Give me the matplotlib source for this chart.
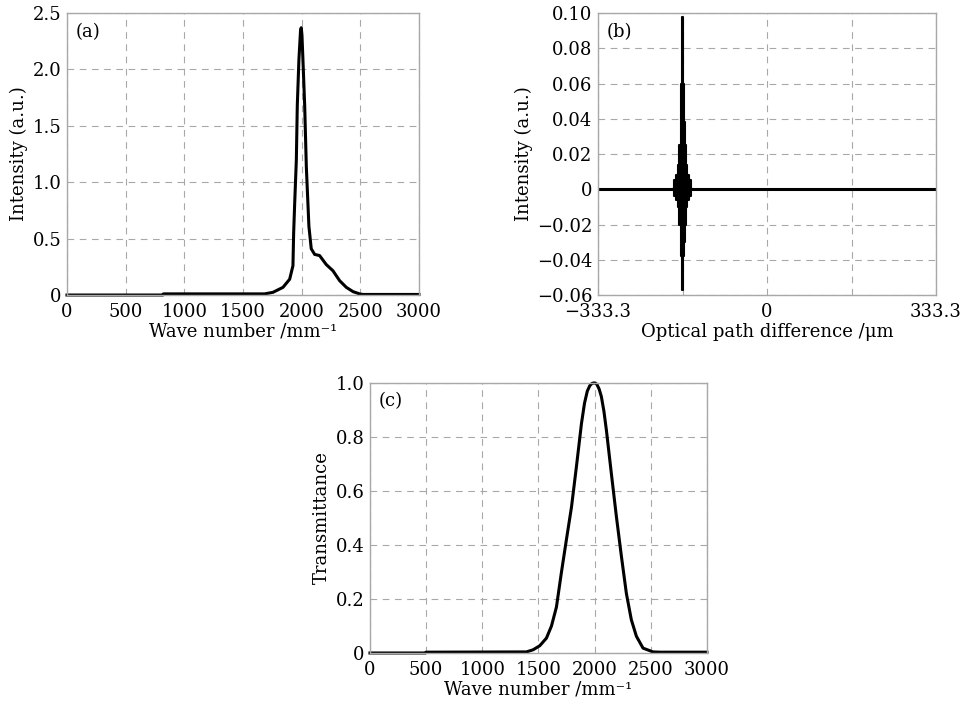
import numpy as np
import matplotlib
matplotlib.use('Agg')
import matplotlib.pyplot as plt

plt.rcParams['font.family'] = ['DejaVu Serif']
plt.rcParams['font.size'] = 13

# --- dados ---
# (a) espectro de entrada
wn_a = [0, 818, 822, 1685, 1756, 1841, 1898, 1926, 1932, 1940, 1955, 1963, 1977, 1991,
        1997, 2003, 2011, 2026, 2040, 2062, 2082, 2111, 2153, 2210, 2267, 2324, 2381,
        2438, 2494, 2520, 3000]
int_a = [0.0, 0.0, 0.01, 0.01, 0.024, 0.068, 0.14, 0.26, 0.55, 0.79, 1.2, 1.68, 2.09, 2.35,
         2.37, 2.30, 2.09, 1.68, 1.14, 0.61, 0.41, 0.36, 0.35, 0.27, 0.215, 0.127, 0.068,
         0.03, 0.01, 0.005, 0.005]

# (b) interferograma: envelope em torno do centro do pacote
opd_centro = -166.65
opd_offset = [-20, -15, -11, -8, -5, -3, -1.5, 0, 1.5, 3, 5, 8, 11, 15, 20]
env_sup = [0.0, 0.005, 0.008, 0.014, 0.025, 0.038, 0.06, 0.098, 0.06, 0.038, 0.025, 0.014, 0.008, 0.005, 0.0]
env_inf = [0.0, -0.004, -0.006, -0.01, -0.02, -0.03, -0.038, -0.057, -0.038, -0.03, -0.02, -0.01, -0.006, -0.004, 0.0]

# (c) transmitancia do filtro
wn_c = [0, 495, 500, 1393, 1453, 1512, 1571, 1616, 1660, 1705, 1749, 1794, 1838, 1883, 1910,
        1935, 1957, 1975, 1990, 2005, 2020, 2040, 2060, 2083, 2105, 2149, 2194, 2238, 2283,
        2327, 2372, 2431, 2520, 2579, 3000]
trans_c = [0.0, 0.0, 0.003, 0.004, 0.012, 0.027, 0.055, 0.1, 0.17, 0.3, 0.42, 0.54, 0.69, 0.85,
           0.925, 0.97, 0.99, 0.998, 1.0, 1.0, 0.995, 0.978, 0.95, 0.895, 0.825, 0.665, 0.505,
           0.36, 0.22, 0.123, 0.062, 0.018, 0.004, 0.003, 0.003]

cinza = '#a8a8a8'

def estilo(ax):
    for s in ax.spines.values():
        s.set_color(cinza)
        s.set_linewidth(1.0)
    ax.grid(True, color=cinza, linestyle=(0, (6, 5)), linewidth=0.8)
    ax.set_axisbelow(True)
    ax.tick_params(length=0, labelsize=13)
    ax.tick_params(axis='x', pad=6)
    ax.tick_params(axis='y', pad=4)

fig = plt.figure(figsize=(9.68, 7.09), dpi=100)

# --- (a) ---
ax1 = fig.add_axes([0.0692, 0.5839, 0.3636, 0.3977])
ax1.plot(wn_a, int_a, color='black', lw=2.2, clip_on=False)
ax1.set_xlim(0, 3000)
ax1.set_ylim(0, 2.5)
ax1.set_xticks(np.arange(0, 3001, 500))
ax1.set_yticks([0, 0.5, 1.0, 1.5, 2.0, 2.5])
ax1.set_yticklabels(['0', '0.5', '1.0', '1.5', '2.0', '2.5'])
ax1.set_xlabel('Wave number /mm⁻¹', labelpad=1)
ax1.set_ylabel('Intensity (a.u.)', labelpad=3)
ax1.text(0.025, 0.965, '(a)', transform=ax1.transAxes, va='top', ha='left')
estilo(ax1)

# --- (b) ---
ax2 = fig.add_axes([0.6178, 0.5839, 0.3492, 0.3977])
ax2.axhline(0, color='black', lw=2.2)
x_b = [opd_centro + d for d in opd_offset]
ax2.fill_between(x_b, env_inf, env_sup, step='mid', color='black', lw=1.5, edgecolor='black')
ax2.set_xlim(-333.3, 333.3)
ax2.set_ylim(-0.06, 0.10)
ax2.set_xticks([-333.3, -166.65, 0, 166.65, 333.3])
ax2.set_xticklabels(['−333.3', '', '0', '', '333.3'])
ax2.set_yticks([-0.06, -0.04, -0.02, 0, 0.02, 0.04, 0.06, 0.08, 0.10])
ax2.set_yticklabels(['−0.06', '−0.04', '−0.02', '0', '0.02', '0.04', '0.06', '0.08', '0.10'])
ax2.set_xlabel('Optical path difference /μm', labelpad=1)
ax2.set_ylabel('Intensity (a.u.)', labelpad=3)
ax2.text(0.025, 0.965, '(b)', transform=ax2.transAxes, va='top', ha='left')
estilo(ax2)

# --- (c) ---
ax3 = fig.add_axes([0.3822, 0.0790, 0.3481, 0.3808])
ax3.plot(wn_c, trans_c, color='black', lw=2.2, clip_on=False)
ax3.set_xlim(0, 3000)
ax3.set_ylim(0, 1.0)
ax3.set_xticks(np.arange(0, 3001, 500))
ax3.set_yticks([0, 0.2, 0.4, 0.6, 0.8, 1.0])
ax3.set_yticklabels(['0', '0.2', '0.4', '0.6', '0.8', '1.0'])
ax3.set_xlabel('Wave number /mm⁻¹', labelpad=1)
ax3.set_ylabel('Transmittance', labelpad=3)
ax3.text(0.025, 0.965, '(c)', transform=ax3.transAxes, va='top', ha='left')
estilo(ax3)

fig.savefig('out.png', dpi=100)
